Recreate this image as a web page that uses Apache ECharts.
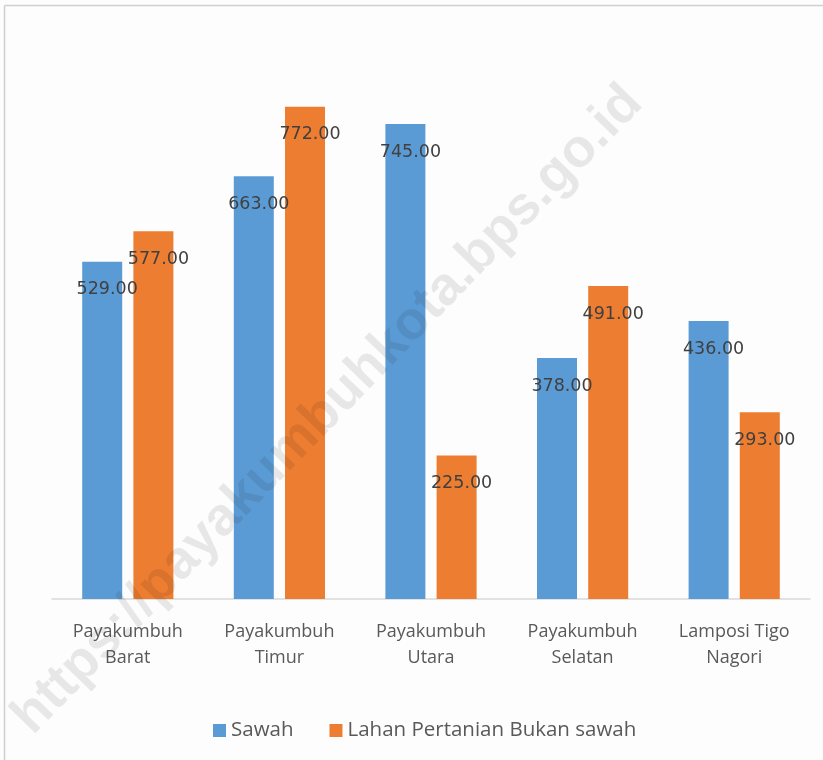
<!DOCTYPE html>
<html>
<head>
<meta charset="utf-8">
<script src="https://cdn.jsdelivr.net/npm/echarts@6/dist/echarts.min.js"></script>
<style>html,body{margin:0;padding:0;background:#fdfdfd;}#c{width:823px;height:760px;}</style>
</head>
<body>
<div id="c"></div>
<script>
const categories = ['Payakumbuh\nBarat', 'Payakumbuh\nTimur', 'Payakumbuh\nUtara', 'Payakumbuh\nSelatan', 'Lamposi Tigo\nNagori'];
const sawah = [529, 663, 745, 378, 436];
const bukanSawah = [577, 772, 225, 491, 293];
const seriesNames = ['Sawah', 'Lahan Pertanian Bukan sawah'];

const chart = echarts.init(document.getElementById('c'), null, {renderer: 'canvas'});
const font = '"Open Sans", "DejaVu Sans", sans-serif';
const labelCfg = {
  show: true, position: 'insideTop', distance: 19, offset: [5, 0],
  color: '#404040', fontSize: 17.5, fontFamily: '"DejaVu Sans", sans-serif',
  formatter: p => p.value.toFixed(2)
};
chart.setOption({
  backgroundColor: '#fdfdfd',
  animation: false,
  grid: {left: 52, right: 13, top: 89, bottom: 161},
  legend: {
    bottom: 14, left: 208, itemWidth: 13, itemHeight: 13, itemGap: 36,
    icon: 'rect',
    textStyle: {color: '#595959', fontSize: 20.5, fontFamily: font},
    data: seriesNames
  },
  xAxis: {
    type: 'category', data: categories,
    axisLine: {lineStyle: {color: '#d9d9d9', width: 1.5}},
    axisTick: {show: false},
    axisLabel: {color: '#595959', fontSize: 18, fontFamily: font, lineHeight: 26, margin: 20, interval: 0}
  },
  yAxis: {type: 'value', min: 0, max: 800, show: false, splitLine: {show: false}},
  series: [
    {name: seriesNames[0], type: 'bar', data: sawah, barWidth: 40, barGap: '28%',
     itemStyle: {color: '#5b9bd5'}, label: labelCfg},
    {name: seriesNames[1], type: 'bar', data: bukanSawah, barWidth: 40,
     itemStyle: {color: '#ed7d31'}, label: labelCfg}
  ],
  graphic: [
    {type: 'line', shape: {x1: 4.5, y1: 5.5, x2: 823, y2: 5.5}, style: {stroke: '#d0d0d0', lineWidth: 1.5}, z: 100},
    {type: 'line', shape: {x1: 4.5, y1: 5.5, x2: 4.5, y2: 760}, style: {stroke: '#d0d0d0', lineWidth: 1.5}, z: 100},
    {type: 'text', x: 328, y: 410, rotation: Math.PI * 0.255, z: 100,
     style: {text: 'https://payakumbuhkota.bps.go.id', fill: 'rgba(0,0,0,0.085)',
             font: 'bold 54px "Liberation Sans", Arial, sans-serif', align: 'center', verticalAlign: 'middle'}}
  ]
});
</script>
</body>
</html>
